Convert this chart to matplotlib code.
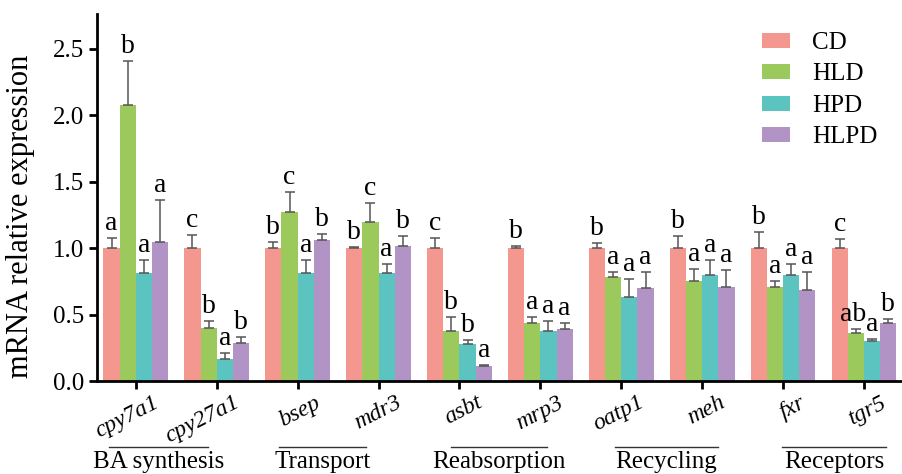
import matplotlib
matplotlib.use("Agg")
import matplotlib.pyplot as plt
import matplotlib.transforms as mtransforms
import numpy as np

plt.rcParams['font.family'] = ['Liberation Serif', 'DejaVu Serif']

# --- data ---
genes = ['cpy7a1', 'cpy27a1', 'bsep', 'mdr3', 'asbt', 'mrp3', 'oatp1', 'meh', 'fxr', 'tgr5']
groups = ['CD', 'HLD', 'HPD', 'HLPD']

cd = [1.0, 1.0, 1.0, 1.0, 1.0, 1.0, 1.0, 1.0, 1.0, 1.0]
cd_err = [0.08, 0.10, 0.05, 0.01, 0.08, 0.02, 0.04, 0.09, 0.12, 0.07]
hld = [2.08, 0.40, 1.27, 1.20, 0.38, 0.435, 0.78, 0.75, 0.71, 0.36]
hld_err = [0.33, 0.05, 0.15, 0.14, 0.10, 0.05, 0.04, 0.09, 0.045, 0.03]
hpd = [0.81, 0.166, 0.81, 0.815, 0.28, 0.38, 0.635, 0.80, 0.80, 0.30]
hpd_err = [0.10, 0.044, 0.10, 0.065, 0.03, 0.07, 0.135, 0.11, 0.08, 0.02]
hlpd = [1.045, 0.29, 1.06, 1.017, 0.113, 0.39, 0.70, 0.71, 0.685, 0.435]
hlpd_err = [0.315, 0.045, 0.05, 0.075, 0.005, 0.045, 0.12, 0.125, 0.135, 0.035]

cd_sig = ['a', 'c', 'b', 'b', 'c', 'b', 'b', 'b', 'b', 'c']
hld_sig = ['b', 'b', 'c', 'c', 'b', 'a', 'a', 'a', 'a', 'ab']
hpd_sig = ['a', 'a', 'a', 'a', 'b', 'a', 'a', 'a', 'a', 'a']
hlpd_sig = ['a', 'b', 'b', 'b', 'a', 'a', 'a', 'a', 'a', 'b']

categories = ['BA synthesis', 'Transport', 'Reabsorption', 'Recycling', 'Receptors']
# span of the underline for each category (in x data units)
cat_spans = [(-0.33, 0.89), (1.77, 2.85), (3.90, 5.08), (5.92, 7.19), (7.99, 9.27)]

colors = ['#F4978E', '#9BC95B', '#5BC4C1', '#B293C6']

means = [cd, hld, hpd, hlpd]
errs = [cd_err, hld_err, hpd_err, hlpd_err]
sigs = [cd_sig, hld_sig, hpd_sig, hlpd_sig]

# --- plot ---
fig = plt.figure(figsize=(9.02, 4.74), dpi=100)
ax = fig.add_axes([0.1075, 0.196, 0.8925, 0.774])

x = np.arange(len(genes))
w = 0.2
for i in range(4):
    xi = x + (i - 1.5) * w
    m = np.array(means[i])
    e = np.array(errs[i])
    ax.bar(xi, m, width=w, color=colors[i], label=groups[i], zorder=2)
    ax.errorbar(xi, m, yerr=[np.zeros_like(e), e], fmt='none', ecolor='#555555',
                elinewidth=1.1, capsize=3.5, capthick=1.1, zorder=3)
    for xx, top, s in zip(xi, m + e, sigs[i]):
        # the "ab" over tgr5 sits a little left, as in the original
        dx = -0.03 if s == 'ab' else 0
        ax.text(xx + dx, top + 0.015, s, ha='center', va='bottom', fontsize=20, zorder=4)

ax.set_xlim(-0.48, 9.47)
ax.set_ylim(0, 2.76)
ax.set_yticks([0, 0.5, 1.0, 1.5, 2.0, 2.5])
ax.set_yticklabels(['0.0', '0.5', '1.0', '1.5', '2.0', '2.5'])
ax.set_xticks(x)
ax.set_xticklabels([])
ax.tick_params(axis='y', labelsize=18, width=2, length=6, direction='out')
ax.tick_params(axis='x', width=2, length=6, direction='out')

# rotated italic gene names, right end a bit past the tick
trans = mtransforms.blended_transform_factory(ax.transData, ax.transAxes)
lab_off = trans + mtransforms.ScaledTranslation(0.17, -0.11, fig.dpi_scale_trans)
for xx, g in zip(x, genes):
    ax.text(xx, 0, g, fontstyle='italic', fontsize=17, rotation=27,
            rotation_mode='anchor', ha='right', va='top', transform=lab_off)

for side in ['top', 'right']:
    ax.spines[side].set_visible(False)
for side in ['left', 'bottom']:
    ax.spines[side].set_linewidth(2)

ax.set_ylabel('mRNA relative expression', fontsize=22)
ax.yaxis.set_label_coords(-0.077, 0.45)

for name, (x0, x1) in zip(categories, cat_spans):
    ax.plot([x0, x1], [-0.18, -0.18], color='#333333', lw=1, transform=trans, clip_on=False)
    ax.text((x0 + x1) / 2, -0.237, name, ha='center', va='baseline', fontsize=18,
            transform=trans)

ax.legend(loc='upper left', bbox_to_anchor=(0.82, 0.98), bbox_transform=fig.transFigure,
          frameon=False, fontsize=18, handlelength=1.1, handleheight=0.55,
          handletextpad=0.9, labelspacing=0.38)

fig.savefig('out.png', dpi=100)
